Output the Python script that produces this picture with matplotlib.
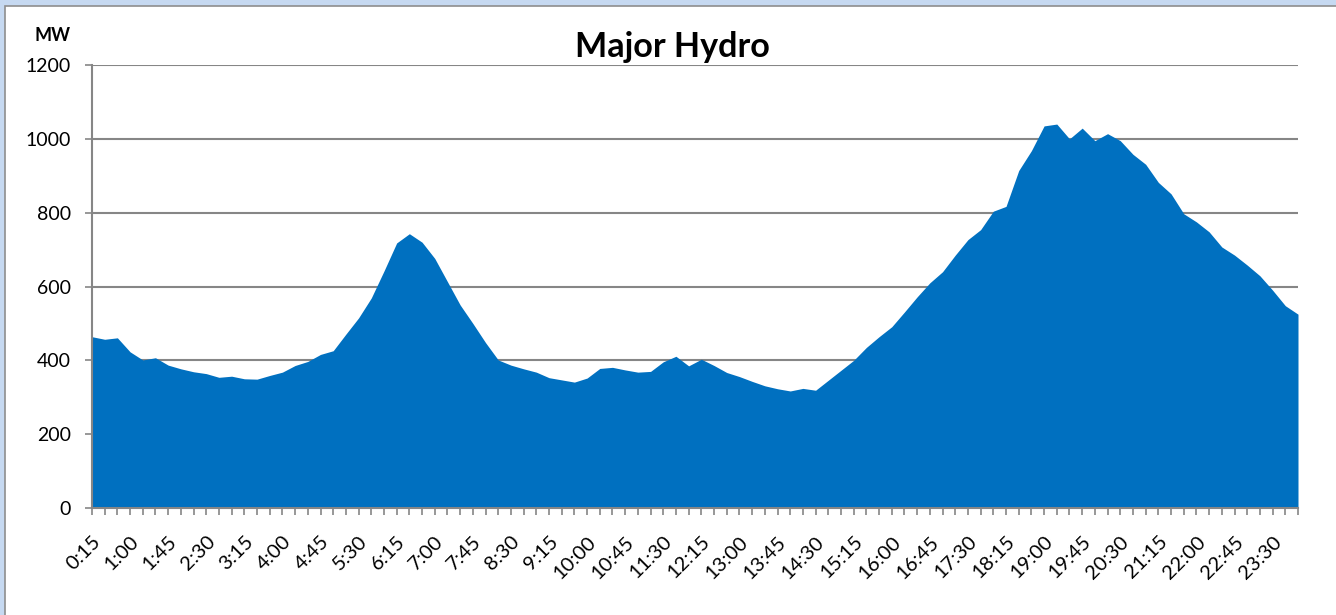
import matplotlib
matplotlib.use("Agg")
import matplotlib.pyplot as plt
from matplotlib.patches import Rectangle

# ---- data ----
times = []
for k in range(96):
    m = (k + 1) * 15
    h, mm = divmod(m, 60)
    times.append(f"{h}:{mm:02d}")

values = [
    464, 457, 461, 423, 401, 407, 387, 377, 369, 364,
    354, 357, 350, 349, 359, 368, 386, 397, 416, 426,
    471, 515, 569, 642, 718, 743, 720, 676, 613, 550,
    500, 448, 401, 387, 377, 368, 353, 347, 341, 352,
    378, 381, 374, 368, 370, 396, 411, 385, 403, 386,
    367, 356, 343, 331, 323, 317, 324, 319, 346, 373,
    400, 435, 464, 491, 531, 572, 610, 640, 685, 727,
    754, 804, 817, 914, 968, 1035, 1040, 1000, 1029, 995,
    1014, 995, 958, 931, 882, 851, 797, 775, 748, 707,
    685, 658, 629, 590, 548, 525,
]

yticks = [0, 200, 400, 600, 800, 1000, 1200]

FILL = "#0070C0"
GRID = "#868686"
FONT = ["Lato", "DejaVu Sans"]

W, H = 1336, 615
fig = plt.figure(figsize=(W / 100, H / 100), dpi=100)
fig.patch.set_facecolor("#C6D9F1")
fig.add_artist(Rectangle((4.5 / W, -0.1), 1.2, 1.1 - 6.5 / H, transform=fig.transFigure,
                         facecolor="white", edgecolor="#8E8E8E", linewidth=1.2, zorder=0))

ax = fig.add_axes([92 / W, 1 - 508 / H, (1298 - 92) / W, (508 - 65) / H])
ax.set_facecolor("none")
x = list(range(len(values)))
ax.fill_between(x, values, 0, color=FILL, linewidth=0, zorder=2)

ax.set_xlim(0, len(values) - 1)
ax.set_ylim(0, 1200)
ax.set_yticks(yticks)
ax.set_yticklabels([str(v) for v in yticks], fontsize=14, family=FONT)
ax.grid(axis="y", color=GRID, linewidth=1.5, zorder=1)
ax.set_axisbelow(True)

ax.set_xticks(x, minor=True)
ax.set_xticks(x[::3])
ax.set_xticklabels(times[::3], rotation=45, ha="right", rotation_mode="anchor",
                   fontsize=14.5, family=FONT)
ax.tick_params(axis="x", which="both", length=5, width=1.2, color=GRID, pad=13)
ax.tick_params(axis="y", length=5, width=1.2, color=GRID, pad=10)

for s in ["top", "right"]:
    ax.spines[s].set_visible(False)
for s in ["left", "bottom"]:
    ax.spines[s].set_color(GRID)
    ax.spines[s].set_linewidth(1.5)

fig.text(672 / W, 1 - 57 / H, "Major Hydro", ha="center", va="baseline",
         fontsize=24.6, fontweight="bold", family=FONT)
fig.text(52 / W, 1 - 41 / H, "MW", ha="center", va="baseline",
         fontsize=13, fontweight="bold", family=FONT)

fig.savefig("out.png", dpi=100)
